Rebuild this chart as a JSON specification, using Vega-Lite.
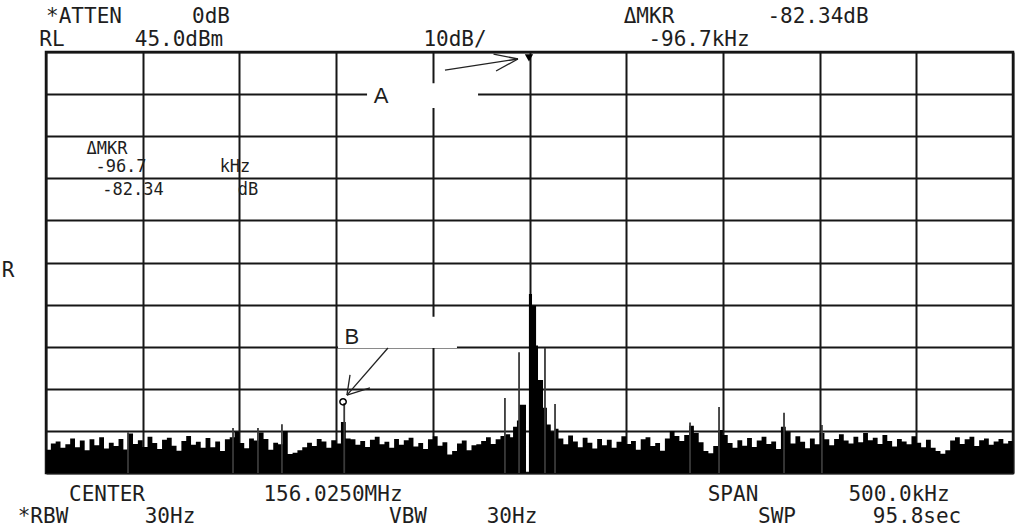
{
  "$schema": "https://vega.github.io/schema/vega-lite/v6.json",
  "width": 967,
  "height": 421,
  "autosize": {"type": "none"},
  "padding": {"left": 46, "top": 52, "right": 2, "bottom": 55},
  "background": "white",
  "config": {
    "view": {"stroke": "#111", "strokeWidth": 2.5},
    "axis": {"gridColor": "#161616", "gridOpacity": 1, "gridWidth": 2}
  },
  "datasets": {
    "trace": [
      {"f": -250, "db": -49.5}, {"f": -247.5, "db": -48.0}, {"f": -245, "db": -47.5}, {"f": -242.5, "db": -49.0},
      {"f": -240, "db": -48.2}, {"f": -237.5, "db": -46.8}, {"f": -235, "db": -48.9}, {"f": -232.5, "db": -47.3},
      {"f": -230, "db": -49.6}, {"f": -227.5, "db": -47.0}, {"f": -225, "db": -48.4}, {"f": -222.5, "db": -46.5},
      {"f": -220, "db": -49.2}, {"f": -217.5, "db": -47.8}, {"f": -215, "db": -48.6}, {"f": -212.5, "db": -46.9},
      {"f": -210, "db": -49.4}, {"f": -207.5, "db": -45.6}, {"f": -205, "db": -48.1}, {"f": -202.5, "db": -47.2},
      {"f": -200, "db": -48.8}, {"f": -197.5, "db": -46.4}, {"f": -195, "db": -47.9}, {"f": -192.5, "db": -49.3},
      {"f": -190, "db": -47.1}, {"f": -187.5, "db": -46.6}, {"f": -185, "db": -48.5}, {"f": -182.5, "db": -49.7},
      {"f": -180, "db": -47.4}, {"f": -177.5, "db": -46.2}, {"f": -175, "db": -48.3}, {"f": -172.5, "db": -47.6},
      {"f": -170, "db": -49.0}, {"f": -167.5, "db": -46.7}, {"f": -165, "db": -48.9}, {"f": -162.5, "db": -47.5},
      {"f": -160, "db": -49.8}, {"f": -157.5, "db": -47.0}, {"f": -155, "db": -46.5}, {"f": -152.5, "db": -45.2},
      {"f": -150, "db": -47.9}, {"f": -147.5, "db": -49.1}, {"f": -145, "db": -46.8}, {"f": -142.5, "db": -47.3},
      {"f": -140, "db": -45.4}, {"f": -137.5, "db": -46.9}, {"f": -135, "db": -49.5}, {"f": -132.5, "db": -47.8},
      {"f": -130, "db": -48.2}, {"f": -127.5, "db": -45.0}, {"f": -125, "db": -50.5}, {"f": -122.5, "db": -50.2},
      {"f": -120, "db": -49.6}, {"f": -117.5, "db": -48.9}, {"f": -115, "db": -47.8}, {"f": -112.5, "db": -48.6},
      {"f": -110, "db": -46.9}, {"f": -107.5, "db": -47.5}, {"f": -105, "db": -49.0}, {"f": -102.5, "db": -47.2},
      {"f": -100, "db": -48.0}, {"f": -97.5, "db": -42.9}, {"f": -95, "db": -46.8}, {"f": -92.5, "db": -47.0},
      {"f": -90, "db": -48.3}, {"f": -87.5, "db": -47.4}, {"f": -85, "db": -48.8}, {"f": -82.5, "db": -47.1},
      {"f": -80, "db": -46.4}, {"f": -77.5, "db": -48.2}, {"f": -75, "db": -47.6}, {"f": -72.5, "db": -49.0},
      {"f": -70, "db": -46.9}, {"f": -67.5, "db": -48.3}, {"f": -65, "db": -47.2}, {"f": -62.5, "db": -46.6},
      {"f": -60, "db": -48.7}, {"f": -57.5, "db": -47.9}, {"f": -55, "db": -49.3}, {"f": -52.5, "db": -47.0},
      {"f": -50, "db": -46.3}, {"f": -47.5, "db": -48.5}, {"f": -45, "db": -47.7}, {"f": -42.5, "db": -50.6},
      {"f": -40, "db": -49.8}, {"f": -37.5, "db": -48.0}, {"f": -35, "db": -47.3}, {"f": -32.5, "db": -49.6},
      {"f": -30, "db": -48.4}, {"f": -27.5, "db": -48.2}, {"f": -25, "db": -47.4}, {"f": -22.5, "db": -46.5},
      {"f": -20, "db": -48.1}, {"f": -17.5, "db": -47.0}, {"f": -15, "db": -46.2},
      {"f": -12.5, "db": -45.8}, {"f": -10, "db": -46.5}, {"f": -8.5, "db": -44.0}, {"f": -6.5, "db": -42.5},
      {"f": -5.4, "db": -38.8}, {"f": -1.8, "db": -55}, {"f": -0.3, "db": -12.5}, {"f": 1.3, "db": -15.2},
      {"f": 3.4, "db": -24.7}, {"f": 4.4, "db": -32.9}, {"f": 7.0, "db": -39.5}, {"f": 9.0, "db": -43.5},
      {"f": 11.0, "db": -45.2}, {"f": 13.0, "db": -44.5},
      {"f": 15, "db": -46.8}, {"f": 17.5, "db": -48.2}, {"f": 20, "db": -46.1}, {"f": 22.5, "db": -47.5},
      {"f": 25, "db": -48.9}, {"f": 27.5, "db": -46.6}, {"f": 30, "db": -47.8}, {"f": 32.5, "db": -49.2},
      {"f": 35, "db": -46.9}, {"f": 37.5, "db": -48.4}, {"f": 40, "db": -47.1}, {"f": 42.5, "db": -49.0},
      {"f": 45, "db": -47.6}, {"f": 47.5, "db": -46.3}, {"f": 50, "db": -48.1}, {"f": 52.5, "db": -47.4},
      {"f": 55, "db": -49.5}, {"f": 57.5, "db": -47.0}, {"f": 60, "db": -46.5}, {"f": 62.5, "db": -48.6},
      {"f": 65, "db": -47.9}, {"f": 67.5, "db": -49.7}, {"f": 70, "db": -46.8}, {"f": 72.5, "db": -45.0},
      {"f": 75, "db": -46.2}, {"f": 77.5, "db": -47.4}, {"f": 80, "db": -46.0}, {"f": 82.5, "db": -43.8},
      {"f": 85, "db": -45.5}, {"f": 87.5, "db": -47.7}, {"f": 90, "db": -49.8}, {"f": 92.5, "db": -50.3},
      {"f": 95, "db": -48.6}, {"f": 97.5, "db": -44.8}, {"f": 100, "db": -46.0}, {"f": 102.5, "db": -47.9},
      {"f": 105, "db": -49.0}, {"f": 107.5, "db": -47.2}, {"f": 110, "db": -48.5}, {"f": 112.5, "db": -46.7},
      {"f": 115, "db": -48.8}, {"f": 117.5, "db": -47.3}, {"f": 120, "db": -46.4}, {"f": 122.5, "db": -48.1},
      {"f": 125, "db": -47.5}, {"f": 127.5, "db": -49.3}, {"f": 130, "db": -44.0}, {"f": 132.5, "db": -45.2},
      {"f": 135, "db": -48.0}, {"f": 137.5, "db": -46.3}, {"f": 140, "db": -47.6}, {"f": 142.5, "db": -49.1},
      {"f": 145, "db": -46.8}, {"f": 147.5, "db": -48.2}, {"f": 150, "db": -45.5}, {"f": 152.5, "db": -47.0},
      {"f": 155, "db": -48.4}, {"f": 157.5, "db": -46.9}, {"f": 160, "db": -45.8}, {"f": 162.5, "db": -47.3},
      {"f": 165, "db": -48.0}, {"f": 167.5, "db": -46.4}, {"f": 170, "db": -47.7}, {"f": 172.5, "db": -45.5},
      {"f": 175, "db": -47.2}, {"f": 177.5, "db": -46.6}, {"f": 180, "db": -48.1}, {"f": 182.5, "db": -46.0},
      {"f": 185, "db": -47.4}, {"f": 187.5, "db": -48.7}, {"f": 190, "db": -46.9}, {"f": 192.5, "db": -47.5},
      {"f": 195, "db": -48.2}, {"f": 197.5, "db": -46.3}, {"f": 200, "db": -47.8}, {"f": 202.5, "db": -48.9},
      {"f": 205, "db": -47.1}, {"f": 207.5, "db": -49.0}, {"f": 210, "db": -49.8}, {"f": 212.5, "db": -50.4},
      {"f": 215, "db": -49.6}, {"f": 217.5, "db": -47.3}, {"f": 220, "db": -46.5}, {"f": 222.5, "db": -48.1},
      {"f": 225, "db": -47.0}, {"f": 227.5, "db": -46.4}, {"f": 230, "db": -48.6}, {"f": 232.5, "db": -47.2},
      {"f": 235, "db": -46.8}, {"f": 237.5, "db": -48.3}, {"f": 240, "db": -47.5}, {"f": 242.5, "db": -46.9},
      {"f": 245, "db": -48.0}, {"f": 247.5, "db": -47.4}, {"f": 250, "db": -47.4}
    ],
    "spikes": [
      {"f": -207.6, "db": -45.3}, {"f": -153.3, "db": -44.3}, {"f": -140.4, "db": -44.3},
      {"f": -128.0, "db": -43.4}, {"f": -95.8, "db": -38.4}, {"f": -12.7, "db": -37.2},
      {"f": -5.4, "db": -26.3}, {"f": 8.0, "db": -25.3}, {"f": 13.2, "db": -38.6},
      {"f": 83.0, "db": -43.0}, {"f": 98.0, "db": -39.3}, {"f": 131.6, "db": -40.7},
      {"f": 151.2, "db": -43.6}
    ],
    "boxes": [
      {"f": -84.0, "f2": -26.6, "db": 37.6, "db2": 31.7},
      {"f": -99.0, "f2": -37.5, "db": -17.9, "db2": -25.3}
    ],
    "arrows": [
      {"f": -43.7, "db": 40.72, "f2": -5.95, "db2": 43.34},
      {"f": -5.95, "db": 43.34, "f2": -17.3, "db2": 40.49},
      {"f": -5.95, "db": 43.34, "f2": -18.6, "db2": 44.5},
      {"f": -73.2, "db": -25.3, "f2": -94.4, "db2": -36.5},
      {"f": -94.4, "db": -36.5, "f2": -92.8, "db2": -31.7},
      {"f": -94.4, "db": -36.5, "f2": -82.5, "db2": -34.8}
    ],
    "markerA": [{"f": -0.27, "db": 43.6}],
    "markerB": [{"f": -96.4, "db": -38.1}],
    "outer": [
      {"f": -230.35, "db": 53.31, "t": "*ATTEN"},
      {"f": -164.68, "db": 53.31, "t": "0dB"},
      {"f": 61.79, "db": 53.31, "t": "ΔMKR"},
      {"f": 149.17, "db": 53.31, "t": "-82.34dB"},
      {"f": -246.9, "db": 47.85, "t": "RL"},
      {"f": -181.23, "db": 47.85, "t": "45.0dBm"},
      {"f": -38.52, "db": 47.85, "t": "10dB/"},
      {"f": 87.64, "db": 47.85, "t": "-96.7kHz"},
      {"f": -218.46, "db": -60.23, "t": "CENTER"},
      {"f": -101.6, "db": -60.23, "t": "156.0250MHz"},
      {"f": 105.22, "db": -60.23, "t": "SPAN"},
      {"f": 191.06, "db": -60.23, "t": "500.0kHz"},
      {"f": -251.55, "db": -65.45, "t": "*RBW"},
      {"f": -185.88, "db": -65.45, "t": "30Hz"},
      {"f": -62.82, "db": -65.45, "t": "VBW"},
      {"f": -9.05, "db": -65.45, "t": "30Hz"},
      {"f": 127.97, "db": -65.45, "t": "SWP"},
      {"f": 200.36, "db": -65.45, "t": "95.8sec"},
      {"f": -269.65, "db": -7.02, "t": "R"}
    ],
    "inner": [
      {"f": -218.46, "db": 21.96, "t": "ΔMKR"},
      {"f": -211.22, "db": 17.68, "t": "-96.7"},
      {"f": -152.28, "db": 17.68, "t": "kHz"},
      {"f": -205.02, "db": 12.22, "t": "-82.34"},
      {"f": -145.55, "db": 12.22, "t": "dB"}
    ],
    "ab": [
      {"f": -76.8, "db": 34.6, "t": "A"},
      {"f": -91.8, "db": -22.7, "t": "B"}
    ]
  },
  "encoding": {
    "x": {
      "field": "f", "type": "quantitative",
      "scale": {"domain": [-250, 250], "nice": false, "zero": false},
      "axis": {"values": [-250, -200, -150, -100, -50, 0, 50, 100, 150, 200, 250], "labels": false, "ticks": false, "domain": false, "grid": true, "title": null}
    },
    "y": {
      "field": "db", "type": "quantitative",
      "scale": {"domain": [-55, 45], "nice": false, "zero": false},
      "axis": {"values": [-55, -45, -35, -25, -15, -5, 5, 15, 25, 35, 45], "labels": false, "ticks": false, "domain": false, "grid": true, "title": null}
    }
  },
  "layer": [
    {
      "data": {"name": "boxes"},
      "mark": {"type": "rect", "color": "white"},
      "encoding": {"x2": {"field": "f2"}, "y2": {"field": "db2"}}
    },
    {
      "data": {"name": "trace"},
      "mark": {"type": "area", "interpolate": "step-after", "color": "#000", "clip": true},
      "encoding": {"y2": {"datum": -55}}
    },
    {
      "data": {"name": "spikes"},
      "mark": {"type": "rule", "color": "#3a3a3a", "strokeWidth": 1.8},
      "encoding": {"y2": {"datum": -55}}
    },
    {
      "data": {"name": "arrows"},
      "mark": {"type": "rule", "color": "#222", "strokeWidth": 1.3},
      "encoding": {"x2": {"field": "f2"}, "y2": {"field": "db2"}}
    },
    {
      "data": {"name": "markerA"},
      "mark": {"type": "point", "shape": "triangle-down", "filled": true, "color": "#000", "size": 70, "opacity": 1}
    },
    {
      "data": {"name": "markerB"},
      "mark": {"type": "point", "shape": "circle", "filled": false, "color": "#000", "size": 40, "strokeWidth": 1.5, "opacity": 1}
    },
    {
      "data": {"name": "outer"},
      "mark": {"type": "text", "font": "DejaVu Sans Mono", "fontSize": 21, "align": "center", "baseline": "middle", "color": "#1e1e1e"},
      "encoding": {"text": {"field": "t"}}
    },
    {
      "data": {"name": "inner"},
      "mark": {"type": "text", "font": "DejaVu Sans Mono", "fontSize": 17, "align": "center", "baseline": "middle", "color": "#1e1e1e"},
      "encoding": {"text": {"field": "t"}}
    },
    {
      "data": {"name": "ab"},
      "mark": {"type": "text", "font": "Liberation Sans", "fontSize": 22, "align": "center", "baseline": "middle", "color": "#1e1e1e"},
      "encoding": {"text": {"field": "t"}}
    }
  ]
}
